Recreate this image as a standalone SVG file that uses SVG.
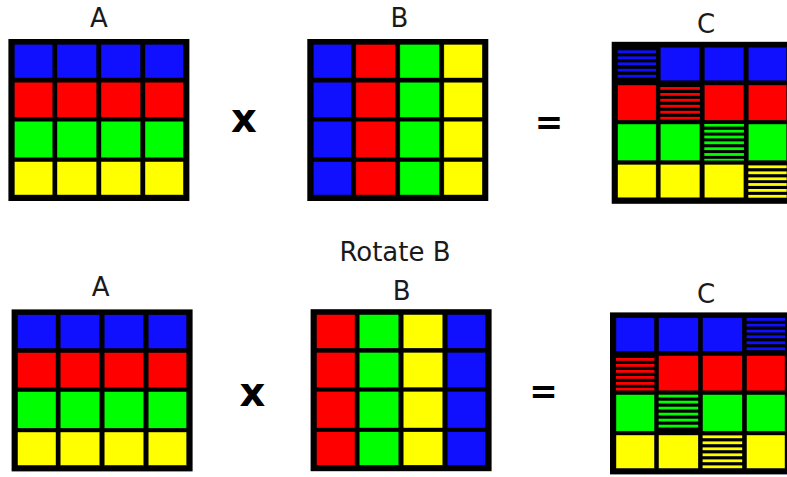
<svg xmlns="http://www.w3.org/2000/svg" width="787" height="477" viewBox="0 0 787 477">
<style>
.lbl{font-family:"DejaVu Sans","Liberation Sans",sans-serif;font-size:26px;fill:#1a1a1a;text-anchor:middle}
.op{font-family:"DejaVu Sans","Liberation Sans",sans-serif;font-weight:bold;font-size:34px;fill:#000;text-anchor:middle}
.opx{font-family:"DejaVu Sans","Liberation Sans",sans-serif;font-weight:bold;font-size:40px;fill:#000;text-anchor:middle}
.fr{fill:#000}
.b{fill:#1010ff}.r{fill:#ff0000}.g{fill:#00ff00}.y{fill:#ffff00}
.b,.r,.g,.y{stroke:#000;stroke-width:0.4}
</style>
<defs>
<g id="rowsA">
<rect class="fr" x="0" y="0" width="181" height="162"/>
<rect class="b" x="6" y="5.4" width="38.4" height="33.6"/><rect class="b" x="48.6" y="5.4" width="39.6" height="33.6"/><rect class="b" x="92.6" y="5.4" width="39.6" height="33.6"/><rect class="b" x="136.6" y="5.4" width="38.4" height="33.6"/>
<rect class="r" x="6" y="43.2" width="38.4" height="35.2"/><rect class="r" x="48.6" y="43.2" width="39.6" height="35.2"/><rect class="r" x="92.6" y="43.2" width="39.6" height="35.2"/><rect class="r" x="136.6" y="43.2" width="38.4" height="35.2"/>
<rect class="g" x="6" y="82.2" width="38.4" height="36.6"/><rect class="g" x="48.6" y="82.2" width="39.6" height="36.6"/><rect class="g" x="92.6" y="82.2" width="39.6" height="36.6"/><rect class="g" x="136.6" y="82.2" width="38.4" height="36.6"/>
<rect class="y" x="6" y="122.6" width="38.4" height="33.4"/><rect class="y" x="48.6" y="122.6" width="39.6" height="33.4"/><rect class="y" x="92.6" y="122.6" width="39.6" height="33.4"/><rect class="y" x="136.6" y="122.6" width="38.4" height="33.4"/>
</g>
</defs>
<g id="connectors"></g>

<g id="label-rotate"><text class="lbl" x="395" y="261">Rotate B</text></g>

<g id="top-A">
<text class="lbl" x="99" y="27">A</text>
<use href="#rowsA" transform="translate(8.4,39)"/>
</g>

<g id="top-times"><text class="opx" x="244" y="132">x</text></g>

<g id="top-B">
<text class="lbl" x="399.5" y="27">B</text>
<g transform="translate(307.3,39)">
<rect class="fr" x="0" y="0" width="181" height="162"/>
<rect class="b" x="6" y="5.4" width="38.4" height="33.6"/><rect class="r" x="48.6" y="5.4" width="39.6" height="33.6"/><rect class="g" x="92.6" y="5.4" width="39.6" height="33.6"/><rect class="y" x="136.6" y="5.4" width="38.4" height="33.6"/>
<rect class="b" x="6" y="43.2" width="38.4" height="35.2"/><rect class="r" x="48.6" y="43.2" width="39.6" height="35.2"/><rect class="g" x="92.6" y="43.2" width="39.6" height="35.2"/><rect class="y" x="136.6" y="43.2" width="38.4" height="35.2"/>
<rect class="b" x="6" y="82.2" width="38.4" height="36.6"/><rect class="r" x="48.6" y="82.2" width="39.6" height="36.6"/><rect class="g" x="92.6" y="82.2" width="39.6" height="36.6"/><rect class="y" x="136.6" y="82.2" width="38.4" height="36.6"/>
<rect class="b" x="6" y="122.6" width="38.4" height="33.4"/><rect class="r" x="48.6" y="122.6" width="39.6" height="33.4"/><rect class="g" x="92.6" y="122.6" width="39.6" height="33.4"/><rect class="y" x="136.6" y="122.6" width="38.4" height="33.4"/>
</g>
</g>

<g id="top-equals"><text class="op" x="549" y="134">=</text></g>

<g id="top-C">
<text class="lbl" x="706" y="32.5">C</text>
<g transform="translate(611.7,41.8)">
<rect class="fr" x="0" y="0" width="181" height="162"/>
<g class="b" style="stroke:none"><rect x="6" y="8.6" width="38.4" height="2.8"/><rect x="6" y="14.6" width="38.4" height="2.8"/><rect x="6" y="20.6" width="38.4" height="2.8"/><rect x="6" y="27" width="38.4" height="2.8"/><rect x="6" y="33" width="38.4" height="2.8"/></g>
<rect class="b" x="48.6" y="5.4" width="39.6" height="33.6"/><rect class="b" x="92.6" y="5.4" width="39.6" height="33.6"/><rect class="b" x="136.6" y="5.4" width="38.4" height="33.6"/>
<rect class="r" x="6" y="43.2" width="38.4" height="35.2"/>
<g class="r" style="stroke:none"><rect x="48.6" y="45.2" width="39.6" height="2.8"/><rect x="48.6" y="51.2" width="39.6" height="2.8"/><rect x="48.6" y="57" width="39.6" height="2.8"/><rect x="48.6" y="63" width="39.6" height="2.8"/><rect x="48.6" y="69" width="39.6" height="2.8"/><rect x="48.6" y="75" width="39.6" height="2.8"/></g>
<rect class="r" x="92.6" y="43.2" width="39.6" height="35.2"/><rect class="r" x="136.6" y="43.2" width="38.4" height="35.2"/>
<rect class="g" x="6" y="82.2" width="38.4" height="36.6"/><rect class="g" x="48.6" y="82.2" width="39.6" height="36.6"/>
<g class="g" style="stroke:none"><rect x="92.6" y="82.2" width="39.6" height="2.6"/><rect x="92.6" y="88" width="39.6" height="2.8"/><rect x="92.6" y="93.8" width="39.6" height="2.8"/><rect x="92.6" y="99.6" width="39.6" height="2.8"/><rect x="92.6" y="105.5" width="39.6" height="2.8"/><rect x="92.6" y="111.3" width="39.6" height="2.8"/><rect x="92.6" y="117" width="39.6" height="1.8"/></g>
<rect class="g" x="136.6" y="82.2" width="38.4" height="36.6"/>
<rect class="y" x="6" y="122.6" width="38.4" height="33.4"/><rect class="y" x="48.6" y="122.6" width="39.6" height="33.4"/><rect class="y" x="92.6" y="122.6" width="39.6" height="33.4"/>
<g class="y" style="stroke:none"><rect x="136.6" y="123.6" width="38.4" height="2.8"/><rect x="136.6" y="129.6" width="38.4" height="2.8"/><rect x="136.6" y="135.6" width="38.4" height="2.8"/><rect x="136.6" y="141.3" width="38.4" height="2.8"/><rect x="136.6" y="147.2" width="38.4" height="2.8"/><rect x="136.6" y="153.1" width="38.4" height="2.8"/></g>
</g>
</g>

<g id="bottom-A">
<text class="lbl" x="100.7" y="296">A</text>
<use href="#rowsA" transform="translate(11.6,309.4)"/>
</g>

<g id="bottom-times"><text class="opx" x="252.5" y="405.5">x</text></g>

<g id="bottom-B">
<text class="lbl" x="401.7" y="300">B</text>
<g transform="translate(310.6,309.2)">
<rect class="fr" x="0" y="0" width="181" height="162"/>
<rect class="r" x="6" y="5.4" width="38.4" height="33.6"/><rect class="g" x="48.6" y="5.4" width="39.6" height="33.6"/><rect class="y" x="92.6" y="5.4" width="39.6" height="33.6"/><rect class="b" x="136.6" y="5.4" width="38.4" height="33.6"/>
<rect class="r" x="6" y="43.2" width="38.4" height="35.2"/><rect class="g" x="48.6" y="43.2" width="39.6" height="35.2"/><rect class="y" x="92.6" y="43.2" width="39.6" height="35.2"/><rect class="b" x="136.6" y="43.2" width="38.4" height="35.2"/>
<rect class="r" x="6" y="82.2" width="38.4" height="36.6"/><rect class="g" x="48.6" y="82.2" width="39.6" height="36.6"/><rect class="y" x="92.6" y="82.2" width="39.6" height="36.6"/><rect class="b" x="136.6" y="82.2" width="38.4" height="36.6"/>
<rect class="r" x="6" y="122.6" width="38.4" height="33.4"/><rect class="g" x="48.6" y="122.6" width="39.6" height="33.4"/><rect class="y" x="92.6" y="122.6" width="39.6" height="33.4"/><rect class="b" x="136.6" y="122.6" width="38.4" height="33.4"/>
</g>
</g>

<g id="bottom-equals"><text class="op" x="543.5" y="403">=</text></g>

<g id="bottom-C">
<text class="lbl" x="706" y="302.5">C</text>
<g transform="translate(610,312.4)">
<rect class="fr" x="0" y="0" width="181" height="162"/>
<rect class="b" x="6" y="5.4" width="38.4" height="33.6"/><rect class="b" x="48.6" y="5.4" width="39.6" height="33.6"/><rect class="b" x="92.6" y="5.4" width="39.6" height="33.6"/>
<g class="b" style="stroke:none"><rect x="136.6" y="5.6" width="38.4" height="2.8"/><rect x="136.6" y="11.3" width="38.4" height="2.8"/><rect x="136.6" y="17.3" width="38.4" height="2.8"/><rect x="136.6" y="23" width="38.4" height="2.8"/><rect x="136.6" y="29" width="38.4" height="2.8"/><rect x="136.6" y="35" width="38.4" height="2.8"/></g>
<g class="r" style="stroke:none"><rect x="6" y="45.6" width="38.4" height="2.8"/><rect x="6" y="51.6" width="38.4" height="2.8"/><rect x="6" y="57.6" width="38.4" height="2.8"/><rect x="6" y="63.6" width="38.4" height="2.8"/><rect x="6" y="69.6" width="38.4" height="2.8"/><rect x="6" y="75.3" width="38.4" height="2.8"/></g>
<rect class="r" x="48.6" y="43.2" width="39.6" height="35.2"/><rect class="r" x="92.6" y="43.2" width="39.6" height="35.2"/><rect class="r" x="136.6" y="43.2" width="38.4" height="35.2"/>
<rect class="g" x="6" y="82.2" width="38.4" height="36.6"/>
<g class="g" style="stroke:none"><rect x="48.6" y="82.3" width="39.6" height="2.8"/><rect x="48.6" y="88.3" width="39.6" height="2.8"/><rect x="48.6" y="94.3" width="39.6" height="2.8"/><rect x="48.6" y="100.3" width="39.6" height="2.8"/><rect x="48.6" y="106.3" width="39.6" height="2.8"/><rect x="48.6" y="112.3" width="39.6" height="2.8"/></g>
<rect class="g" x="92.6" y="82.2" width="39.6" height="36.6"/><rect class="g" x="136.6" y="82.2" width="38.4" height="36.6"/>
<rect class="y" x="6" y="122.6" width="38.4" height="33.4"/><rect class="y" x="48.6" y="122.6" width="39.6" height="33.4"/>
<g class="y" style="stroke:none"><rect x="92.6" y="123" width="39.6" height="2.8"/><rect x="92.6" y="129" width="39.6" height="2.8"/><rect x="92.6" y="135" width="39.6" height="2.8"/><rect x="92.6" y="141" width="39.6" height="2.8"/><rect x="92.6" y="147" width="39.6" height="2.8"/><rect x="92.6" y="153" width="39.6" height="2.8"/></g>
<rect class="y" x="136.6" y="122.6" width="38.4" height="33.4"/>
</g>
</g>
</svg>
